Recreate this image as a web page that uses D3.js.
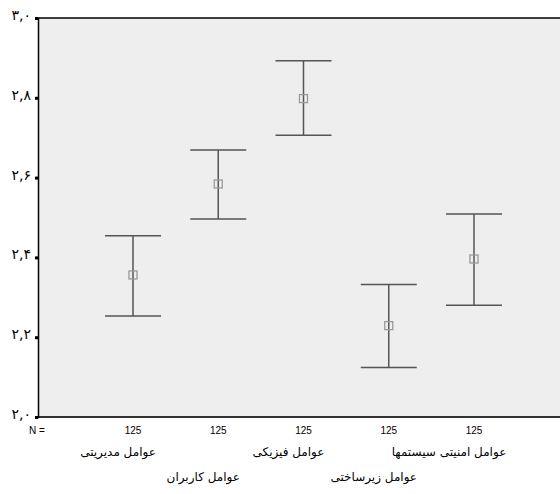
<!DOCTYPE html>
<html>
<head>
<meta charset="utf-8">
<script src="https://cdn.jsdelivr.net/npm/d3@7"></script>
<style>
  body { margin: 0; background: #fff; }
  svg { display: block; }
</style>
</head>
<body>
<svg id="chart" width="560" height="494"></svg>
<script>
var categories = ["عوامل مدیریتی", "عوامل کاربران", "عوامل فیزیکی", "عوامل زیرساختی", "عوامل امنیتی سیستمها"]
var counts = [125, 125, 125, 125, 125]
var means = [2.356, 2.584, 2.798, 2.229, 2.396]
var lower = [2.253, 2.496, 2.706, 2.124, 2.280]
var upper = [2.454, 2.669, 2.893, 2.332, 2.509]
var yTicks = [2.0, 2.2, 2.4, 2.6, 2.8, 3.0]

var svg = d3.select("#chart")
var plotLeft = 38, plotTop = 18, plotRight = 560, plotBottom = 417

var y = d3.scaleLinear().domain([2.0, 3.0]).range([plotBottom, plotTop])
var x = d3.scalePoint().domain(d3.range(categories.length)).range([133, 474])

var faDigits = "۰۱۲۳۴۵۶۷۸۹"
function toFa(v) {
  return v.toFixed(1).replace(".", ",").replace(/[0-9]/g, function(c) { return faDigits[+c] })
}

svg.append("rect")
  .attr("x", plotLeft).attr("y", plotTop)
  .attr("width", plotRight - plotLeft).attr("height", plotBottom - plotTop)
  .attr("fill", "#eeeeee")

// frame
svg.append("line").attr("x1", plotLeft).attr("x2", plotRight).attr("y1", plotTop).attr("y2", plotTop)
  .attr("stroke", "#000").attr("stroke-width", 1.5)
svg.append("line").attr("x1", plotLeft).attr("x2", plotRight).attr("y1", plotBottom).attr("y2", plotBottom)
  .attr("stroke", "#333").attr("stroke-width", 2)

var yAxis = svg.append("g")
  .attr("transform", "translate(" + plotLeft + ",0)")
  .call(d3.axisLeft(y).tickValues(yTicks).tickSize(3).tickPadding(4).tickFormat(toFa))
yAxis.select(".domain").attr("stroke", "#000").attr("stroke-width", 1.5)
yAxis.selectAll(".tick line").attr("stroke", "#000").attr("stroke-width", 3)
yAxis.selectAll(".tick text")
  .attr("font-family", "DejaVu Sans, sans-serif")
  .attr("font-size", "14px")
  .attr("fill", "#000")
  .attr("dy", "0.1em")

// error bars
var g = svg.append("g")
var cap = 28
categories.forEach(function(c, i) {
  var cx = x(i)
  g.append("line").attr("x1", cx).attr("x2", cx).attr("y1", y(upper[i])).attr("y2", y(lower[i]))
    .attr("stroke", "#555").attr("stroke-width", 1.5)
  g.append("line").attr("x1", cx - cap).attr("x2", cx + cap).attr("y1", y(upper[i])).attr("y2", y(upper[i]))
    .attr("stroke", "#555").attr("stroke-width", 1.5)
  g.append("line").attr("x1", cx - cap).attr("x2", cx + cap).attr("y1", y(lower[i])).attr("y2", y(lower[i]))
    .attr("stroke", "#555").attr("stroke-width", 1.5)
  g.append("rect").attr("x", cx - 4).attr("y", y(means[i]) - 4).attr("width", 8).attr("height", 8)
    .attr("fill", "none").attr("stroke", "#999").attr("stroke-width", 1.3)
})

// N row
svg.append("text").attr("x", 37).attr("y", 434)
  .attr("text-anchor", "middle")
  .attr("font-family", "Liberation Sans, Arial, sans-serif").attr("font-size", "10px")
  .text("N =")
svg.selectAll(".n").data(counts).enter().append("text")
  .attr("x", function(d, i) { return x(i) }).attr("y", 434)
  .attr("text-anchor", "middle")
  .attr("font-family", "Liberation Sans, Arial, sans-serif").attr("font-size", "10px")
  .text(function(d) { return d })

// category labels, staggered
svg.selectAll(".cat").data(categories).enter().append("text")
  .attr("x", function(d, i) { return x(i) - 15 - (i === categories.length - 1 ? 10 : 0) })
  .attr("y", function(d, i) { return i % 2 === 0 ? 456 : 481 })
  .attr("text-anchor", "middle")
  .attr("direction", "rtl")
  .attr("font-family", "DejaVu Sans, sans-serif").attr("font-size", "12px")
  .text(function(d) { return d })
</script>
</body>
</html>
